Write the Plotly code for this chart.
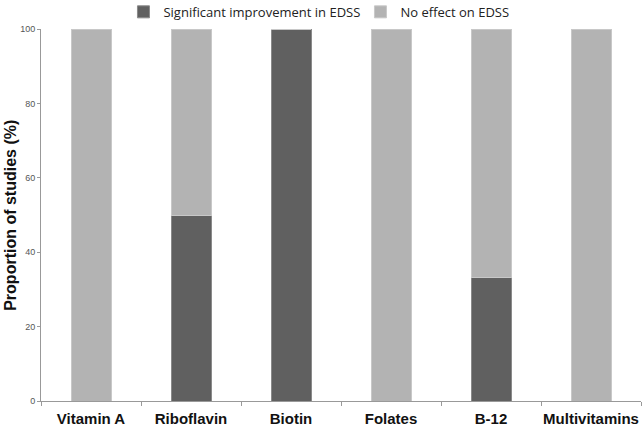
import plotly.graph_objects as go

categories = ["Vitamin A", "Riboflavin", "Biotin", "Folates", "B-12", "Multivitamins"]
significant = [0, 50, 100, 0, 33.3, 0]
no_effect = [100, 50, 0, 100, 66.7, 100]
y_ticks = [0, 20, 40, 60, 80, 100]

fig = go.Figure()
fig.add_trace(go.Bar(x=categories, y=significant, name="Significant improvement in EDSS",
                     marker=dict(color="#606060", line=dict(color="#8a8a8a", width=1))))
fig.add_trace(go.Bar(x=categories, y=no_effect, name="No effect on EDSS",
                     marker=dict(color="#b3b3b3", line=dict(color="#c8c8c8", width=1))))

fig.update_layout(
    barmode="stack",
    bargap=0.6,
    width=643, height=426,
    margin=dict(l=41, r=2, t=29, b=25, autoexpand=False),
    paper_bgcolor="white", plot_bgcolor="white",
    showlegend=True,
    legend=dict(orientation="h", xref="container", yref="paper",
                x=0.192, xanchor="left", y=1.046, yanchor="middle",
                font=dict(family="Open Sans", size=13, color="#222"),
                entrywidth=192, entrywidthmode="pixels",
                traceorder="normal", tracegroupgap=0,
                bgcolor="rgba(0,0,0,0)"),
    annotations=[dict(text="<b>Proportion of studies (%)</b>", textangle=-90,
                      xref="paper", yref="paper", x=-0.052, y=0.5,
                      xanchor="center", yanchor="middle", showarrow=False,
                      font=dict(family="Liberation Sans", size=16, color="#111"))],
)
fig.update_xaxes(showline=True, linecolor="#999", linewidth=1, automargin=False,
                 ticks="outside", tickson="boundaries", ticklen=4, tickcolor="#999",
                 tickangle=0,
                 tickfont=dict(family="Liberation Sans", size=15, color="#111"),
                 ticklabelstandoff=4)
fig.update_xaxes(tickprefix="<b>", ticksuffix="</b>")
fig.update_yaxes(range=[0, 100], tickvals=y_ticks, showline=True, linecolor="#999", linewidth=1,
                 automargin=False,
                 ticks="outside", ticklen=3, tickcolor="#999", showgrid=False, zeroline=False,
                 tickfont=dict(family="Liberation Sans", size=9, color="#555"))

fig.write_html("out.html", config={"displayModeBar": False},
               post_script="document.body.style.margin='0';")
